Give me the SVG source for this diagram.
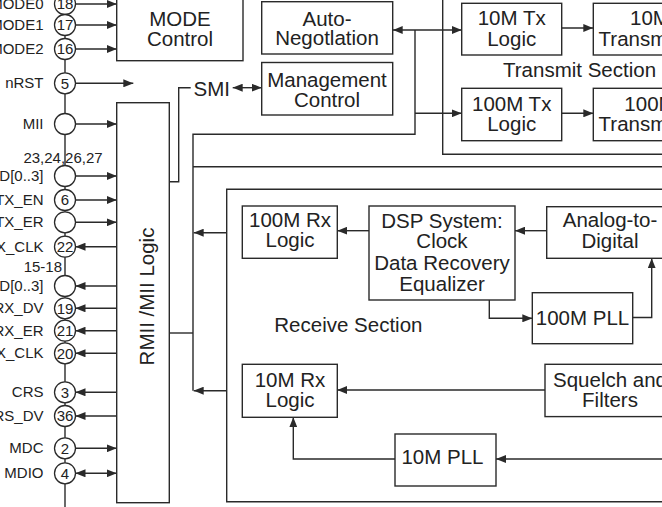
<svg xmlns="http://www.w3.org/2000/svg" width="662" height="507" viewBox="0 0 662 507">
<defs>
<marker id="ah" markerUnits="userSpaceOnUse" markerWidth="10" markerHeight="8" refX="10" refY="4" orient="auto-start-reverse">
<path d="M0,0 L10,4 L0,8 Z" fill="#2a2a2a"/>
</marker>
<style>
.b{fill:#fff;stroke:#2a2a2a;stroke-width:1.4}
.l{fill:none;stroke:#2a2a2a;stroke-width:1.4}
.a{fill:none;stroke:#2a2a2a;stroke-width:1.4;marker-end:url(#ah)}
.d{fill:none;stroke:#2a2a2a;stroke-width:1.4;marker-start:url(#ah);marker-end:url(#ah)}
.pc{fill:#fff;stroke:#2a2a2a;stroke-width:1.3}
text{font-family:"Liberation Sans",Arial,Helvetica,sans-serif;fill:#222}
.t{font-size:20.5px;text-anchor:middle}
.ts{font-size:20.5px}
.pl{font-size:15px;text-anchor:end}
.pn{font-size:15px;text-anchor:middle}
</style>
</defs>
<rect width="662" height="507" fill="#fff"/>

<g id="connectors">
<line class="l" x1="65" y1="-5" x2="65" y2="512"/>
<line class="a" x1="75.5" y1="4" x2="116.7" y2="4"/>
<line class="a" x1="75.5" y1="25" x2="116.7" y2="25"/>
<line class="a" x1="75.5" y1="49" x2="116.7" y2="49"/>
<line class="a" x1="75.5" y1="83.3" x2="133.3" y2="83.3"/>
<line class="a" x1="75.5" y1="124" x2="116.7" y2="124"/>
<line class="a" x1="75.5" y1="176" x2="116.7" y2="176"/>
<line class="a" x1="75.5" y1="200" x2="116.7" y2="200"/>
<line class="a" x1="75.5" y1="222.3" x2="116.7" y2="222.3"/>
<line class="a" x1="116.7" y1="246.7" x2="75.5" y2="246.7"/>
<line class="a" x1="116.7" y1="286" x2="75.5" y2="286"/>
<line class="a" x1="116.7" y1="308.3" x2="75.5" y2="308.3"/>
<line class="a" x1="116.7" y1="330.7" x2="75.5" y2="330.7"/>
<line class="a" x1="116.7" y1="353.3" x2="75.5" y2="353.3"/>
<line class="a" x1="116.7" y1="392.3" x2="75.5" y2="392.3"/>
<line class="a" x1="116.7" y1="416" x2="75.5" y2="416"/>
<line class="a" x1="75.5" y1="448.3" x2="116.7" y2="448.3"/>
<line class="d" x1="75.5" y1="473.3" x2="116.7" y2="473.3"/>

<polyline class="l" points="169.3,181.7 178.7,181.7 178.7,87.7 190.7,87.7"/>
<line class="d" x1="232.7" y1="87.7" x2="261.7" y2="87.7"/>
<line class="d" x1="392.7" y1="30" x2="461.7" y2="30"/>
<polyline class="l" points="415,30 415,134.3 193,134.3 193,390.7"/>
<line class="a" x1="415" y1="113.3" x2="461.7" y2="113.3"/>
<line class="l" x1="193" y1="166.7" x2="670" y2="166.7"/>
<line class="l" x1="169.3" y1="333" x2="193" y2="333"/>
<line class="a" x1="226.7" y1="232.7" x2="193.7" y2="232.7"/>
<line class="a" x1="226.7" y1="390.7" x2="193.7" y2="390.7"/>
<line class="a" x1="561.7" y1="28" x2="593.3" y2="28"/>
<line class="a" x1="561.7" y1="113.3" x2="593.3" y2="113.3"/>
<line class="a" x1="369" y1="230.7" x2="337.3" y2="230.7"/>
<line class="a" x1="546.7" y1="230.7" x2="515" y2="230.7"/>
<polyline class="a" points="489.3,300 489.3,318.3 532.3,318.3"/>
<polyline class="a" points="632.7,317.5 651.7,317.5 651.7,258.3"/>
<line class="a" x1="545" y1="390" x2="337.3" y2="390"/>
<line class="a" x1="670" y1="459" x2="496" y2="459"/>
<polyline class="a" points="395,459 293.3,459 293.3,417.3"/>
</g>

<g id="pins">
<circle class="pc" cx="65" cy="4" r="10.5"/><text class="pn" x="65" y="9.3">18</text><text class="pl" x="43.5" y="9">MODE0</text>
<circle class="pc" cx="65" cy="25" r="10.5"/><text class="pn" x="65" y="30.3">17</text><text class="pl" x="43.5" y="30">MODE1</text>
<circle class="pc" cx="65" cy="49" r="10.5"/><text class="pn" x="65" y="54.3">16</text><text class="pl" x="43.5" y="54">MODE2</text>
<circle class="pc" cx="65" cy="83.3" r="10.5"/><text class="pn" x="65" y="88.6">5</text><text class="pl" x="43.5" y="88.3">nRST</text>
<circle class="pc" cx="65" cy="124" r="10.5"/><text class="pl" x="43.5" y="129">MII</text>
<text style="font-size:15px;text-anchor:middle" x="63" y="163">23,24,26,27</text>
<circle class="pc" cx="65" cy="176" r="10.5"/><text class="pl" x="43.5" y="181">TXD[0..3]</text>
<circle class="pc" cx="65" cy="200" r="10.5"/><text class="pn" x="65" y="205.3">6</text><text class="pl" x="43.5" y="205">TX_EN</text>
<circle class="pc" cx="65" cy="222.3" r="10.5"/><text class="pl" x="43.5" y="227.3">TX_ER</text>
<circle class="pc" cx="65" cy="246.7" r="10.5"/><text class="pn" x="65" y="252">22</text><text class="pl" x="43.5" y="251.7">TX_CLK</text>
<text style="font-size:15px;text-anchor:end" x="62" y="271.7">15-18</text>
<circle class="pc" cx="65" cy="286" r="10.5"/><text class="pl" x="43.5" y="291">RXD[0..3]</text>
<circle class="pc" cx="65" cy="308.3" r="10.5"/><text class="pn" x="65" y="313.6">19</text><text class="pl" x="43.5" y="313.3">RX_DV</text>
<circle class="pc" cx="65" cy="330.7" r="10.5"/><text class="pn" x="65" y="336">21</text><text class="pl" x="43.5" y="335.7">RX_ER</text>
<circle class="pc" cx="65" cy="353.3" r="10.5"/><text class="pn" x="65" y="358.6">20</text><text class="pl" x="43.5" y="358.3">RX_CLK</text>
<circle class="pc" cx="65" cy="392.3" r="10.5"/><text class="pn" x="65" y="397.6">3</text><text class="pl" x="43.5" y="397.3">CRS</text>
<circle class="pc" cx="65" cy="416" r="10.5"/><text class="pn" x="65" y="421.3">36</text><text class="pl" x="43.5" y="421">CRS_DV</text>
<circle class="pc" cx="65" cy="448.3" r="10.5"/><text class="pn" x="65" y="453.6">2</text><text class="pl" x="43.5" y="453.3">MDC</text>
<circle class="pc" cx="65" cy="473.3" r="10.5"/><text class="pn" x="65" y="478.6">4</text><text class="pl" x="43.5" y="478.3">MDIO</text>
</g>

<g id="mode-control">
<rect class="b" x="116.7" y="-5" width="126.3" height="65.7"/>
<text class="t" x="180" y="25.7">MODE</text>
<text class="t" x="180" y="45.7">Control</text>
</g>

<g id="auto-negotiation">
<rect class="b" x="261.7" y="1.7" width="131" height="52.3"/>
<text class="t" x="327" y="25.5">Auto-</text>
<text class="t" x="327" y="45">Negotlation</text>
</g>

<g id="smi">
<text class="ts" x="193.5" y="95.7">SMI</text>
</g>

<g id="management-control">
<rect class="b" x="261.7" y="62.5" width="131" height="52.5"/>
<text class="t" x="327" y="87.3">Management</text>
<text class="t" x="327" y="107.3">Control</text>
</g>

<g id="rmii-logic">
<rect class="b" x="116.7" y="102.7" width="52.6" height="400"/>
<text class="t" transform="translate(153.5,296.5) rotate(-90)">RMII /MII Logic</text>
</g>

<g id="transmit-section">
<polyline class="l" points="442.7,-5 442.7,154.3 670,154.3"/>
<text class="ts" x="503" y="77.3">Transmit Section</text>
</g>

<g id="tx10-logic">
<rect class="b" x="461.7" y="3.3" width="100" height="51.7"/>
<text class="t" x="511.7" y="25">10M Tx</text>
<text class="t" x="511.7" y="45.5">Logic</text>
</g>

<g id="tx10-transmitter">
<rect class="b" x="593.3" y="3.3" width="120" height="51.7"/>
<text class="t" x="650" y="25">10M</text>
<text class="t" x="650" y="45.5">Transmitter</text>
</g>

<g id="tx100-logic">
<rect class="b" x="461.7" y="88.3" width="100" height="52.4"/>
<text class="t" x="511.7" y="110.5">100M Tx</text>
<text class="t" x="511.7" y="130.5">Logic</text>
</g>

<g id="tx100-transmitter">
<rect class="b" x="593.3" y="88.3" width="120" height="52.4"/>
<text class="t" x="650" y="110.5">100M</text>
<text class="t" x="650" y="130.5">Transmitter</text>
</g>

<g id="receive-section">
<polyline class="l" points="670,189.3 226.7,189.3 226.7,501.7 670,501.7"/>
<text class="ts" x="274.3" y="331.7">Receive Section</text>
</g>

<g id="rx100-logic">
<rect class="b" x="242.3" y="206" width="95" height="52.3"/>
<text class="t" x="290" y="227.3">100M Rx</text>
<text class="t" x="290" y="247.3">Logic</text>
</g>

<g id="dsp-system">
<rect class="b" x="369" y="206" width="146" height="94"/>
<text class="t" x="442" y="227.7">DSP System:</text>
<text class="t" x="442" y="248.3">Clock</text>
<text class="t" x="442" y="269.5">Data Recovery</text>
<text class="t" x="442" y="290.5">Equalizer</text>
</g>

<g id="analog-to-digital">
<rect class="b" x="546.7" y="206.7" width="130" height="51.6"/>
<text class="t" x="610" y="227.3">Analog-to-</text>
<text class="t" x="610" y="248.3">Digital</text>
</g>

<g id="pll100">
<rect class="b" x="532.3" y="292.7" width="100.4" height="51"/>
<text class="t" x="582.5" y="325">100M PLL</text>
</g>

<g id="rx10-logic">
<rect class="b" x="242.3" y="364.3" width="95" height="53"/>
<text class="t" x="290" y="387.3">10M Rx</text>
<text class="t" x="290" y="407.3">Logic</text>
</g>

<g id="squelch-filters">
<rect class="b" x="545" y="364.3" width="130" height="52.3"/>
<text class="t" x="610" y="387.3">Squelch and</text>
<text class="t" x="610" y="407.3">Filters</text>
</g>

<g id="pll10">
<rect class="b" x="395" y="434" width="101" height="52"/>
<text class="t" x="442.5" y="464.3">10M PLL</text>
</g>
</svg>
